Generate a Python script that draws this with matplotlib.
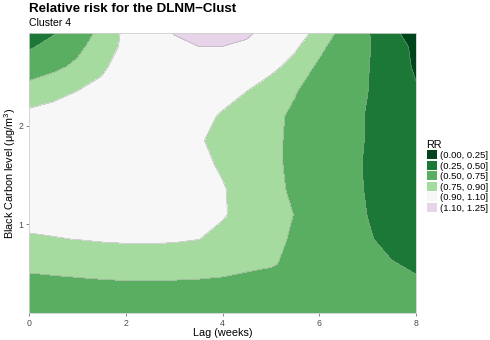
import numpy as np
import matplotlib
matplotlib.use("Agg")
import matplotlib.pyplot as plt
from matplotlib.patches import Patch

plt.rcParams["font.family"] = ["Liberation Sans", "DejaVu Sans"]
plt.rcParams["mathtext.fontset"] = "custom"
plt.rcParams["mathtext.rm"] = "Liberation Sans"
plt.rcParams["mathtext.it"] = "Liberation Sans:italic"

# lag (weeks) and black carbon level grid
lags = [0, 0.5, 1, 1.5, 2, 2.5, 3, 3.5, 4, 4.5, 5, 5.5, 6, 6.5, 7, 7.5, 8]
bc_levels = [0.1, 0.35, 0.6, 0.85, 1.1, 1.35, 1.6, 1.85, 2.1, 2.35, 2.6, 2.8, 2.94]

# relative risk, one row per black carbon level
rr_010 = [0.63, 0.63, 0.63, 0.63, 0.63, 0.63, 0.63, 0.63, 0.63, 0.63, 0.62, 0.61, 0.60, 0.59, 0.58, 0.57, 0.56]
rr_035 = [0.70, 0.705, 0.71, 0.715, 0.72, 0.72, 0.72, 0.72, 0.715, 0.70, 0.68, 0.65, 0.62, 0.60, 0.58, 0.55, 0.52]
rr_060 = [0.78, 0.79, 0.80, 0.81, 0.815, 0.815, 0.81, 0.80, 0.79, 0.775, 0.762, 0.72, 0.65, 0.59, 0.54, 0.505, 0.485]
rr_085 = [0.89, 0.895, 0.902, 0.912, 0.918, 0.92, 0.915, 0.902, 0.87, 0.83, 0.79, 0.73, 0.64, 0.56, 0.51, 0.47, 0.43]
rr_110 = [0.93, 0.94, 0.95, 0.96, 0.965, 0.965, 0.96, 0.945, 0.91, 0.86, 0.81, 0.745, 0.64, 0.56, 0.498, 0.45, 0.40]
rr_135 = [0.95, 0.96, 0.97, 0.975, 0.975, 0.97, 0.96, 0.94, 0.91, 0.85, 0.79, 0.725, 0.63, 0.55, 0.49, 0.43, 0.37]
rr_160 = [0.96, 0.97, 0.975, 0.98, 0.98, 0.97, 0.955, 0.93, 0.885, 0.835, 0.78, 0.72, 0.63, 0.55, 0.485, 0.41, 0.34]
rr_185 = [0.955, 0.965, 0.975, 0.98, 0.98, 0.97, 0.95, 0.91, 0.87, 0.83, 0.78, 0.72, 0.64, 0.56, 0.49, 0.40, 0.32]
rr_210 = [0.93, 0.945, 0.96, 0.975, 0.98, 0.975, 0.96, 0.93, 0.89, 0.85, 0.79, 0.72, 0.64, 0.56, 0.49, 0.39, 0.30]
rr_235 = [0.83, 0.865, 0.90, 0.93, 0.96, 0.975, 0.98, 0.965, 0.935, 0.90, 0.83, 0.76, 0.66, 0.57, 0.502, 0.38, 0.27]
rr_260 = [0.64, 0.71, 0.78, 0.88, 0.95, 0.99, 1.02, 1.035, 1.03, 0.99, 0.935, 0.85, 0.72, 0.60, 0.51, 0.37, 0.22]
rr_280 = [0.47, 0.58, 0.71, 0.83, 0.93, 1.01, 1.07, 1.098, 1.098, 1.07, 0.99, 0.92, 0.79, 0.65, 0.52, 0.36, 0.20]
rr_294 = [0.36, 0.48, 0.64, 0.80, 0.93, 1.03, 1.105, 1.16, 1.17, 1.125, 1.04, 0.96, 0.86, 0.69, 0.52, 0.30, 0.15]

rr_levels = [0, 0.25, 0.5, 0.75, 0.9, 1.1, 1.25]
rr_labels = ["(0.00, 0.25]", "(0.25, 0.50]", "(0.50, 0.75]",
             "(0.75, 0.90]", "(0.90, 1.10]", "(1.10, 1.25]"]
colors = ["#00441b", "#1b7837", "#5aae61", "#a6dba0", "#f7f7f7", "#e7d4e8"]

rr = np.array([rr_010, rr_035, rr_060, rr_085, rr_110, rr_135, rr_160,
               rr_185, rr_210, rr_235, rr_260, rr_280, rr_294])

fig = plt.figure(figsize=(4.9, 3.4), dpi=100)
ax = fig.add_axes([29 / 490, 1 - 313 / 340, (416 - 29) / 490, (313 - 33) / 340])

ax.contourf(lags, bc_levels, rr, levels=rr_levels, colors=colors)
ax.contour(lags, bc_levels, rr, levels=rr_levels[1:-1], colors="#9a9a9a", linewidths=0.3)

ax.set_xlim(0, 8)
ax.set_ylim(bc_levels[0], bc_levels[-1])
ax.set_xticks([0, 2, 4, 6, 8])
ax.set_yticks([1, 2])
ax.tick_params(length=2.5, width=0.5, color="#555555", labelsize=6.3,
               labelcolor="#4d4d4d", pad=1.5)
for s in ax.spines.values():
    s.set_color("#d0d0d0")
    s.set_linewidth(0.6)

ax.set_xlabel("Lag (weeks)", fontsize=7.8, labelpad=0.5)
ax.set_ylabel("Black Carbon level (μg/m$^{3}$)", fontsize=7.8)
ax.yaxis.set_label_coords(-0.029, 0.5)

fig.text(29 / 490, 1 - 9 / 340, "Relative risk for the DLNM\u2212Clust",
         fontsize=9.6, fontweight="bold", va="center", ha="left")
fig.text(29 / 490, 1 - 23 / 340, "Cluster 4", fontsize=7.6, va="center", ha="left")

handles = [Patch(facecolor=c, edgecolor="none") for c in colors]
leg = fig.legend(handles, rr_labels, loc="upper left",
                 bbox_to_anchor=(420 / 490, 1 - 133 / 340), frameon=False,
                 title="RR", fontsize=6.8, title_fontsize=7.8,
                 handlelength=1.05, handleheight=1.1, handletextpad=0.4,
                 labelspacing=0.08, borderpad=0.2)
leg._legend_box.align = "left"

fig.savefig("out.png", dpi=100)
